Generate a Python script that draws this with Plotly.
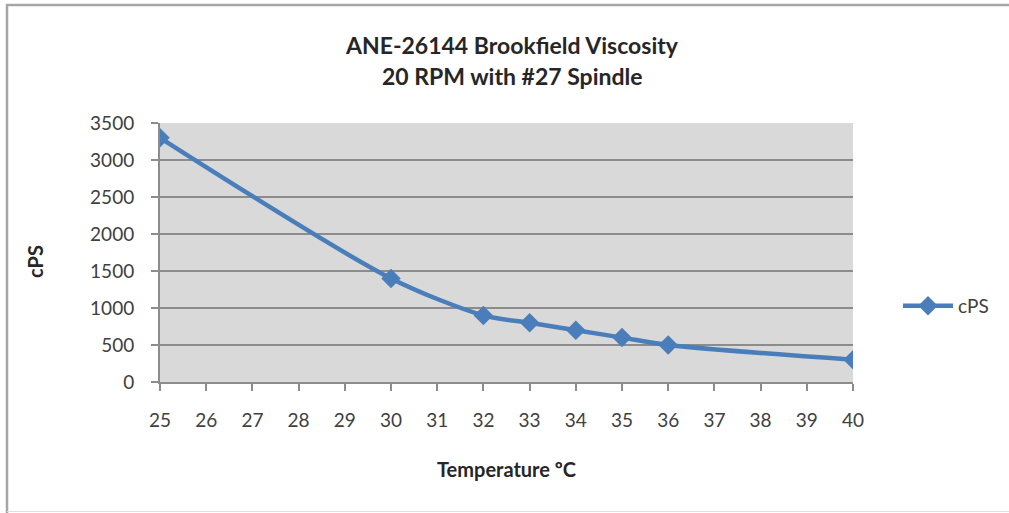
import plotly.graph_objects as go

temperature = [25, 30, 32, 33, 34, 35, 36, 40]
cps = [3300, 1400, 900, 800, 700, 600, 500, 300]
x_ticks = list(range(25, 41))
y_ticks = [0, 500, 1000, 1500, 2000, 2500, 3000, 3500]
title_lines = ["ANE-26144 Brookfield Viscosity", "20 RPM with #27 Spindle"]
x_title = "Temperature ºC"
y_title = "cPS"

W, H = 1009, 513
L, R, T, B = 160, 853, 123, 382

def px(x):
    return (x - L) / (R - L)

def py(y):
    return (B - y) / (B - T)

FONT = "Lato"
TXT = "#404040"
DARK = "#262626"
BLUE = "#4A7EBB"
GRID = "#8C8C8C"

fig = go.Figure()
fig.add_trace(go.Scatter(
    x=temperature, y=cps, name=y_title, mode="lines+markers",
    line=dict(color=BLUE, width=4.5, shape="spline", smoothing=0.8),
    marker=dict(symbol="diamond", size=15, color=BLUE),
))

fig.update_layout(
    width=W, height=H,
    margin=dict(l=L, r=W - R, t=T, b=H - B),
    paper_bgcolor="white", plot_bgcolor="#D9D9D9",
    font=dict(family=FONT, color=TXT, size=19),
    showlegend=True,
    legend=dict(x=px(898), y=py(306), xanchor="left", yanchor="middle",
                font=dict(family=FONT, size=19, color=TXT),
                bgcolor="rgba(0,0,0,0)", itemwidth=50),
    xaxis=dict(range=[25, 40], tickvals=x_ticks, ticktext=[str(v) for v in x_ticks],
               showgrid=False, zeroline=False, showline=True, linecolor=GRID, linewidth=2,
               ticks="outside", ticklen=7, tickcolor=GRID, tickwidth=1.5,
               ticklabelstandoff=13, tickfont=dict(size=19, color=TXT)),
    yaxis=dict(range=[0, 3500], tickvals=y_ticks, showgrid=True, gridcolor=GRID, gridwidth=2,
               zeroline=False, showline=True, linecolor=GRID, linewidth=2,
               ticks="outside", ticklen=7, tickcolor=GRID, tickwidth=1.5,
               ticklabelstandoff=13, tickfont=dict(size=19, color=TXT)),
)

def label(text, x, y, size, angle=0):
    fig.add_annotation(text="<b>%s</b>" % text, xref="paper", yref="paper",
                       x=px(x), y=py(y), xanchor="center", yanchor="middle",
                       showarrow=False, textangle=angle,
                       font=dict(family=FONT, size=size, color=DARK))

label(title_lines[0], 512, 45, 23)
label(title_lines[1], 512, 76, 23)
label(x_title, 507, 469, 20)
label(y_title, 35, 262, 20, -90)

# outer chart frame
fig.add_shape(type="line", xref="paper", yref="paper", x0=px(6), x1=px(1009), y0=py(5), y1=py(5),
              line=dict(color="#A6A6A6", width=2.5))
fig.add_shape(type="line", xref="paper", yref="paper", x0=px(7), x1=px(7), y0=py(4), y1=py(513),
              line=dict(color="#A6A6A6", width=2.5))
fig.add_shape(type="line", xref="paper", yref="paper", x0=px(7), x1=px(1009), y0=py(511.5), y1=py(511.5),
              line=dict(color="#E0E0E0", width=1))

fig.write_html("out.html", config={"displayModeBar": False},
               post_script="document.body.style.margin='0';document.body.style.overflow='hidden';")
